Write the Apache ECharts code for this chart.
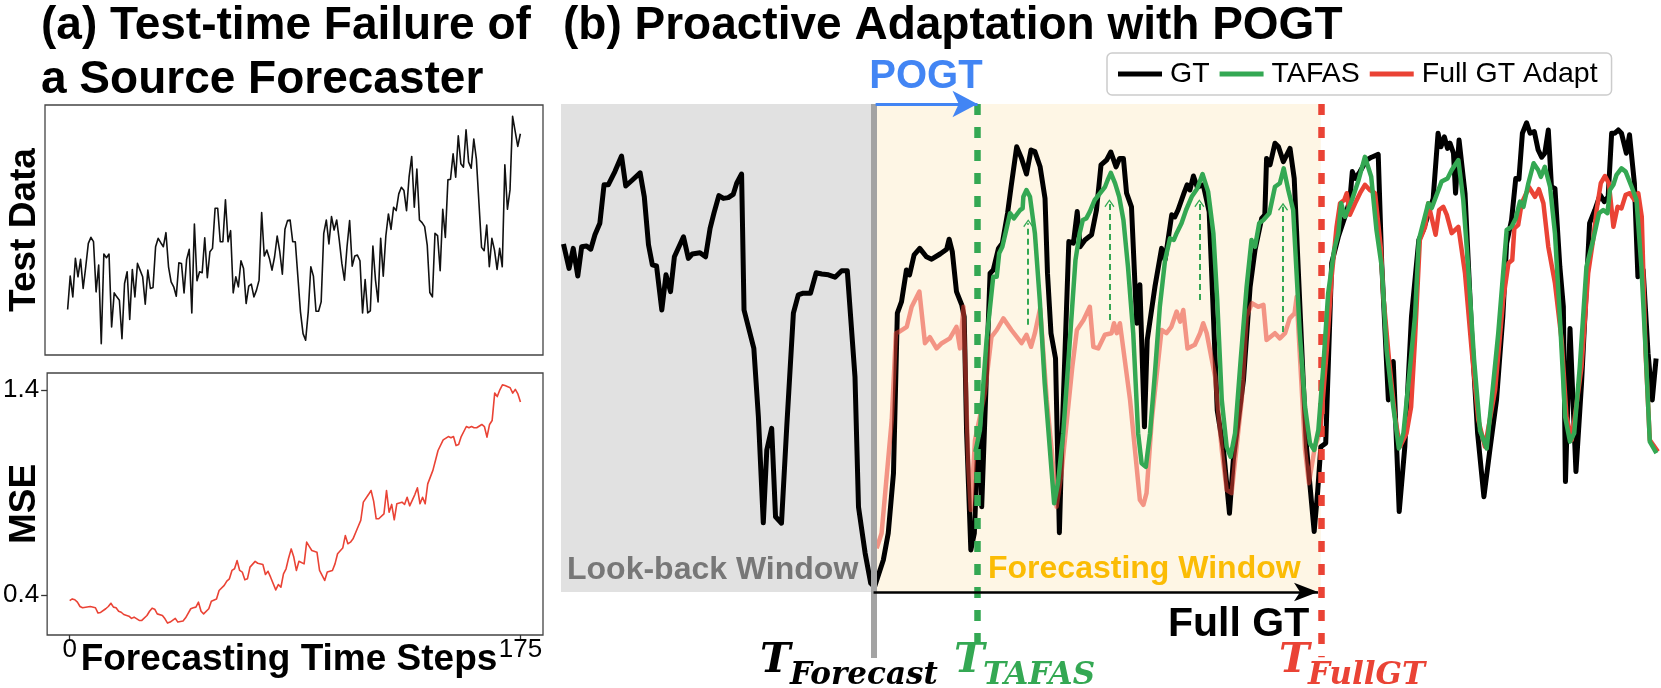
<!DOCTYPE html>
<html>
<head>
<meta charset="utf-8">
<script src="https://cdn.jsdelivr.net/npm/echarts@6.0.0/dist/echarts.min.js"></script>
<style>
  html, body { margin: 0; padding: 0; background: #fff; }
  #chart { width: 1661px; height: 688px; }
</style>
</head>
<body>
<div id="chart"></div>
<script>
// ---- panel (a): test data (one value per forecasting step 0..175)
var testData = [
  10.2,20.2,14.0,25.5,20.0,25.2,16.5,23.0,30.0,31.8,
  30.5,15.5,23.5,0.0,26.8,25.7,26.8,5.0,15.2,14.0,
  13.0,1.5,18.0,21.5,7.2,22.2,14.0,24.0,22.0,20.0,
  11.8,22.0,16.5,16.8,29.0,31.5,30.2,29.0,33.2,23.0,
  18.5,17.0,14.2,24.2,24.0,15.2,25.2,28.2,9.2,35.8,
  18.8,21.5,21.2,31.7,19.7,27.5,28.5,40.5,40.5,30.5,
  30.5,43.0,30.5,33.8,15.2,20.0,17.0,24.8,22.5,12.0,
  17.2,17.8,14.0,16.0,19.0,39.2,26.2,28.0,25.5,22.0,
  26.0,32.2,27.5,20.8,34.2,36.8,37.0,30.5,30.5,20.0,
  9.5,3.0,1.0,9.5,23.0,20.2,9.7,9.7,12.5,33.0,
  37.0,29.8,38.0,34.0,37.0,31.0,24.0,19.0,29.0,36.8,
  23.2,26.2,26.5,24.8,9.2,19.2,9.2,9.8,29.2,19.0,
  12.5,31.5,20.2,32.2,38.8,34.2,40.8,39.8,44.8,46.8,
  45.8,39.8,50.0,56.0,40.8,52.2,37.0,36.2,35.0,29.5,
  15.3,14.0,33.0,32.3,21.8,40.2,31.8,49.0,49.2,56.8,
  49.8,62.2,53.8,52.8,64.0,54.3,52.5,61.2,55.2,42.0,
  28.8,27.8,35.5,23.0,31.5,28.0,22.2,28.5,23.0,53.5,
  40.2,46.0,68.0,63.5,59.0,62.8
];

// ---- panel (a): MSE per step
var mseSteps = [0,1,2,3,4,5,8,10,11,12,14,15,16,17,18,19,20,21,23,24,25,27,28,30,31,32,33,34,36,37,38,39,41,42,44,45,47,48,49,50,51,52,54,55,57,58,60,61,62,63,64,65,66,67,68,69,70,72,73,75,76,77,78,80,81,82,83,84,85,86,87,88,89,91,92,93,94,96,97,99,100,102,103,104,106,107,108,109,110,112,113,114,116,117,118,119,120,122,123,124,125,126,127,129,130,131,132,134,135,136,137,138,139,141,142,143,145,147,148,149,150,151,152,154,155,156,157,158,160,161,162,163,164,165,166,167,168,169,171,172,173,174,175];
var mseValues = [0.372,0.380,0.376,0.364,0.343,0.337,0.343,0.337,0.311,0.314,0.332,0.343,0.359,0.340,0.337,0.320,0.315,0.304,0.296,0.285,0.291,0.275,0.275,0.299,0.320,0.335,0.330,0.307,0.299,0.283,0.262,0.267,0.285,0.267,0.272,0.288,0.332,0.337,0.340,0.364,0.320,0.307,0.332,0.369,0.380,0.421,0.446,0.467,0.478,0.519,0.527,0.567,0.519,0.511,0.473,0.478,0.535,0.563,0.554,0.548,0.499,0.515,0.486,0.424,0.450,0.437,0.502,0.527,0.580,0.624,0.584,0.519,0.564,0.551,0.657,0.636,0.616,0.608,0.519,0.470,0.511,0.519,0.551,0.600,0.628,0.689,0.649,0.657,0.673,0.733,0.763,0.852,0.889,0.909,0.857,0.771,0.771,0.795,0.909,0.803,0.841,0.766,0.844,0.852,0.841,0.876,0.834,0.889,0.922,0.844,0.876,0.844,0.941,1.007,1.055,1.104,1.156,1.172,1.166,1.172,1.128,1.133,1.172,1.221,1.215,1.221,1.215,1.215,1.231,1.221,1.169,1.231,1.250,1.384,1.367,1.400,1.424,1.421,1.410,1.384,1.402,1.380,1.340];
var mseTicks = [0.4, 1.4];
var stepTicks = [0, 175];

// ---- panel (b): [time step, value]
var gtPoints = [[0.7,87.0],[2.3,80.9],[3.5,85.9],[4.8,79.0],[5.9,86.3],[7.3,86.5],[8.5,85.7],[9.7,89.3],[11.1,92.2],[12.3,101.8],[13.5,101.8],[15.4,105.1],[17.3,109.0],[18.5,101.5],[20.4,103.0],[22.6,104.8],[23.8,98.8],[25.0,86.8],[26.1,81.8],[27.3,81.5],[28.8,70.5],[30.0,79.3],[31.3,75.1],[32.4,83.8],[35.0,88.8],[36.4,83.4],[37.5,84.5],[39.7,84.8],[41.3,83.8],[42.6,90.9],[43.7,94.7],[45.1,99.1],[46.4,98.4],[47.8,98.6],[49.2,99.4],[50.2,102.2],[51.6,104.5],[52.3,70.5],[55.1,60.9],[56.4,43.8],[57.8,17.3],[58.8,35.5],[60.2,40.9],[61.3,18.8],[63.0,17.2],[64.5,41.3],[66.4,69.7],[67.8,74.3],[69.2,74.7],[71.3,74.7],[72.9,79.8],[74.5,79.5],[76.4,79.3],[78.3,78.7],[80.2,80.3],[81.8,80.3],[84.0,53.8],[85.0,21.3],[86.9,9.7],[88.5,2.2],[89.6,1.3],[92.1,8.0],[93.5,14.7],[95.0,29.7],[96.1,69.7],[97.3,72.6],[98.7,80.5],[99.6,79.3],[100.9,84.3],[102.5,85.9],[104.4,83.8],[105.9,83.2],[108.3,84.5],[110.2,85.7],[110.9,88.2],[111.8,85.1],[113.0,75.1],[114.5,71.8],[115.2,68.8],[115.9,39.7],[117.1,10.5],[118.1,14.7],[119.0,34.7],[119.7,39.7],[120.2,21.3],[122.6,79.7],[123.5,80.5],[125.0,85.9],[126.1,87.2],[127.6,94.7],[128.6,101.3],[130.2,111.3],[131.6,108.4],[133.0,104.5],[134.3,110.5],[135.4,110.1],[136.9,106.3],[138.3,98.4],[139.0,79.7],[140.0,64.7],[141.3,58.4],[142.4,14.8],[143.2,39.7],[145.1,87.6],[146.4,87.2],[147.5,95.1],[148.3,86.3],[149.7,88.0],[151.6,89.3],[153.0,95.5],[154.3,106.8],[155.9,108.0],[157.1,110.0],[158.6,106.3],[159.6,108.4],[160.7,108.4],[161.6,99.7],[163.0,96.3],[164.5,67.2],[165.4,76.8],[166.7,41.3],[167.5,63.0],[169.7,76.3],[171.6,85.9],[172.6,83.0],[174.5,94.3],[175.4,93.8],[176.3,95.5],[178.0,99.7],[178.9,101.8],[179.7,100.5],[180.7,104.0],[181.8,101.2],[183.5,101.8],[185.2,95.1],[187.5,45.5],[189.3,35.5],[191.0,19.7],[192.1,33.0],[195.0,53.0],[196.9,76.3],[198.3,85.5],[200.2,93.4],[201.1,94.3],[201.6,108.4],[202.6,106.8],[204.0,112.2],[205.0,111.3],[206.4,107.6],[208.3,110.9],[209.5,103.4],[212.1,52.2],[213.0,36.3],[215.2,15.1],[216.2,25.1],[217.1,36.3],[218.5,37.2],[220.2,82.2],[222.1,88.8],[224.0,93.8],[225.4,98.0],[226.1,105.1],[226.9,103.4],[228.3,105.1],[230.2,108.0],[231.6,108.7],[233.5,109.4],[234.5,82.2],[236.4,48.0],[237.8,57.6],[239.5,20.1],[241.1,36.3],[243.0,68.8],[245.1,88.0],[246.4,90.5],[249.2,98.4],[250.6,114.7],[251.4,111.3],[252.4,113.8],[253.3,110.9],[254.0,112.2],[255.0,109.7],[255.6,99.7],[256.6,113.0],[258.3,99.7],[260.2,64.7],[261.9,39.7],[263.7,23.8],[265.4,35.5],[267.3,48.0],[269.1,68.8],[270.2,87.2],[271.6,93.0],[272.8,103.4],[273.7,103.2],[274.7,114.7],[275.9,117.3],[276.9,114.7],[278.1,115.1],[279.2,110.5],[280.2,108.7],[281.1,109.7],[282.1,115.5],[283.0,101.3],[284.0,100.9],[285.4,81.3],[286.4,71.3],[287.0,27.6],[288.3,65.9],[290.0,30.1],[291.6,52.2],[293.9,92.2],[295.4,95.5],[296.9,99.3],[298.1,97.6],[299.2,98.8],[300.2,114.7],[301.1,114.7],[302.1,115.5],[303.0,114.7],[304.4,109.7],[305.3,114.3],[306.7,102.2],[307.7,78.8],[309.2,80.5],[310.6,59.7],[311.8,48.0],[312.9,58.4]];

var tafasPoints = [[118.4,35.0],[119.7,40.5],[121.6,63.0],[123.5,78.8],[124.5,78.8],[125.2,84.7],[126.1,86.3],[127.0,89.7],[128.3,94.7],[129.4,93.4],[131.2,95.5],[131.9,95.9],[132.1,98.8],[133.0,100.5],[134.0,98.8],[135.4,89.7],[136.8,73.0],[138.2,52.2],[139.7,35.5],[140.9,22.2],[142.0,27.2],[143.5,39.7],[145.4,63.0],[147.0,83.0],[148.2,89.7],[149.1,93.0],[150.1,93.4],[151.1,95.1],[152.5,98.0],[155.4,101.2],[156.2,103.0],[157.1,104.8],[158.3,102.2],[159.5,98.8],[160.7,93.0],[162.0,81.3],[163.5,64.7],[164.9,39.7],[165.9,32.2],[167.1,31.3],[168.3,39.7],[169.7,54.7],[171.1,71.3],[172.6,83.0],[174.0,88.4],[175.1,88.0],[175.9,89.7],[177.3,92.2],[178.6,95.5],[180.2,98.8],[181.8,100.9],[183.3,104.5],[184.9,100.1],[186.4,89.7],[187.5,73.0],[188.8,48.0],[190.2,36.3],[191.3,33.8],[192.6,39.7],[194.2,58.0],[195.9,76.3],[197.3,88.0],[198.3,86.3],[199.5,92.2],[200.7,93.0],[202.4,94.7],[204.0,101.3],[205.4,102.2],[206.5,105.9],[207.8,100.5],[209.2,95.5],[211.1,64.7],[212.6,46.3],[214.0,37.2],[215.2,35.5],[216.4,40.5],[217.8,56.3],[219.2,74.7],[220.9,85.5],[222.1,89.7],[222.9,97.2],[224.0,93.8],[226.0,98.0],[227.9,103.0],[229.7,108.8],[231.5,103.8],[233.0,90.5],[234.5,81.3],[235.9,60.5],[237.8,46.3],[239.4,35.9],[240.7,39.7],[242.6,56.3],[244.0,68.8],[245.1,88.0],[247.8,97.2],[248.8,96.0],[251.6,102.6],[253.3,103.4],[254.5,105.5],[256.4,108.0],[257.8,98.0],[259.2,81.3],[260.9,58.0],[262.6,40.3],[264.5,35.9],[265.9,48.0],[267.8,64.7],[270.2,90.5],[271.6,91.3],[272.8,93.4],[274.0,97.6],[275.0,96.3],[276.4,102.2],[277.9,107.2],[279.2,105.5],[280.0,103.8],[281.1,106.3],[282.6,101.3],[284.0,89.7],[285.4,68.8],[286.9,43.8],[288.3,37.6],[289.5,39.7],[291.1,56.3],[293.0,81.3],[294.9,88.0],[296.6,94.7],[297.8,95.5],[299.0,94.7],[299.7,100.5],[300.7,101.8],[301.6,104.3],[303.0,105.9],[304.2,105.1],[305.9,101.3],[307.3,98.0],[308.7,81.3],[309.9,60.5],[311.1,37.6],[313.0,34.7]];

// Full-GT adaptation inside the forecasting window (drawn faded)
var fullGtWindowPoints = [[90.2,10.9],[91.6,14.7],[94.5,43.0],[95.7,64.7],[96.7,65.1],[98.8,66.3],[100.2,71.3],[102.4,75.1],[104.0,62.2],[105.4,63.7],[107.3,60.9],[108.8,62.2],[111.1,63.4],[113.0,66.3],[114.0,60.9],[115.0,71.3],[116.4,31.3],[117.1,20.5],[118.3,38.0],[121.1,49.7],[123.0,63.8],[124.5,65.5],[126.4,68.4],[128.7,65.5],[131.6,62.2],[133.0,64.3],[134.3,61.3],[135.4,64.7],[136.9,70.9],[138.8,48.0],[140.2,35.5],[141.6,21.3],[143.0,29.7],[146.1,56.3],[147.4,65.5],[149.3,68.0],[151.1,71.3],[152.1,61.3],[153.5,60.9],[155.4,64.3],[157.3,64.7],[158.0,67.2],[158.8,64.7],[159.7,67.2],[162.6,48.0],[164.0,35.5],[165.4,23.0],[166.4,21.8],[167.3,24.7],[168.8,43.0],[171.6,65.5],[173.0,64.7],[174.4,66.3],[175.9,70.1],[176.9,67.6],[177.8,70.5],[179.0,60.9],[181.1,61.8],[182.6,64.7],[183.5,67.2],[184.5,64.7],[186.9,53.8],[188.8,35.5],[190.2,25.5],[191.6,24.7],[194.5,48.0],[195.9,68.8],[197.4,72.2],[199.2,71.3],[200.7,71.8],[201.6,63.0],[204.0,64.7],[205.4,63.4],[206.9,64.7],[208.2,68.4],[209.6,69.7],[210.2,73.8],[212.6,35.5],[213.7,27.2],[215.4,36.3],[216.9,40.0]];

// Full-GT adaptation after the full ground truth arrives
var fullGtPoints = [[216.9,40.0],[217.3,43.8],[218.8,60.5],[220.2,78.8],[221.6,91.3],[222.6,97.2],[223.8,98.0],[224.5,99.7],[225.4,94.3],[226.9,97.2],[228.3,99.7],[229.7,101.8],[231.1,100.5],[232.6,99.7],[234.3,85.5],[234.9,74.7],[236.6,58.0],[238.3,43.8],[239.7,36.3],[241.6,39.7],[242.9,46.3],[244.0,63.0],[245.4,88.0],[246.9,91.3],[247.8,97.2],[249.9,89.3],[250.9,95.5],[252.1,96.3],[253.1,94.3],[254.5,89.7],[256.4,91.3],[258.3,79.7],[260.2,60.5],[262.1,43.0],[264.0,36.3],[266.9,50.5],[269.2,73.0],[270.7,82.2],[271.8,83.0],[272.4,90.9],[273.5,91.8],[274.5,97.2],[276.6,101.2],[278.3,98.8],[279.4,100.7],[280.7,97.2],[282.1,86.3],[284.0,77.2],[285.9,63.0],[287.3,43.8],[288.8,38.0],[291.6,56.3],[293.5,79.7],[294.9,88.0],[295.9,95.5],[297.1,102.2],[298.3,104.0],[299.4,102.2],[300.7,91.3],[301.9,96.3],[303.0,95.9],[304.2,99.3],[305.4,99.7],[306.7,98.0],[307.8,99.7],[308.8,93.8],[309.9,59.7],[311.1,38.0],[313.4,35.1]];

// key time points and TAFAS correction arrows [step, from, to]
var tForecast = 89.3, tTafas = 118.8, tFullGT = 217.1;
var tafasArrows = [[133.5,66.8,92.2],[156.7,68.0,97.2],[182.4,73.0,97.2],[206.3,65.0,96.3]];

var C = { black:'#000000', green:'#34a853', red:'#ea4335', blue:'#4285f4', yellow:'#fbbc05', grayText:'#777777' };
var SANS = '"Liberation Sans", Arial, sans-serif';
var SERIF = '"DejaVu Serif", serif';

var myChart = echarts.init(document.getElementById('chart'));

function txt(x, y, s, size, color, opts) {
    opts = opts || {};
    return {
        type: 'text', x: x, y: y, rotation: opts.rotation || 0, z: 100,
        style: {
            text: s, fontSize: size, fontWeight: opts.weight || 'bold',
            fontStyle: opts.italic ? 'italic' : 'normal',
            fontFamily: opts.family || SANS, fill: color,
            align: opts.align || 'left', verticalAlign: 'middle'
        }
    };
}

var hiddenAxis = { axisLine:{show:false}, axisTick:{show:false}, axisLabel:{show:false}, splitLine:{show:false} };
var chevron = 'path://M0,0 L10,10 L8,11.5 L0,3 L-8,11.5 L-10,10 Z';

var option = {
    animation: false,
    textStyle: { fontFamily: SANS },
    grid: [
        { left: 45, top: 105, width: 498, height: 250, show: true, borderColor: '#444', borderWidth: 1.3 },
        { left: 45, top: 373, width: 498, height: 262, show: true, borderColor: '#444', borderWidth: 1.3 },
        { left: 561, top: 104, width: 1100, height: 556 }
    ],
    xAxis: [
        Object.assign({ type:'value', gridIndex:0, min:-8.75, max:183.75 }, hiddenAxis),
        { type:'value', gridIndex:1, min:-8.75, max:183.75,
          axisLine:{show:false, onZero:false}, splitLine:{show:false},
          axisTick:{show:true, length:6, customValues: stepTicks, lineStyle:{color:'#333', width:1.3}},
          axisLabel:{show:true, customValues: stepTicks, fontSize:26, color:'#000', margin:2} },
        Object.assign({ type:'value', gridIndex:2, min:0, max:314.3 }, hiddenAxis)
    ],
    yAxis: [
        Object.assign({ type:'value', gridIndex:0, min:-3.4, max:71.4 }, hiddenAxis),
        { type:'value', gridIndex:1, min:0.204, max:1.482,
          axisLine:{show:false, onZero:false}, splitLine:{show:false},
          axisTick:{show:true, length:6, customValues: mseTicks, lineStyle:{color:'#333', width:1.3}},
          axisLabel:{show:true, customValues: mseTicks, fontSize:26, color:'#000', margin:8,
                     formatter: function (v) { return v.toFixed(1); }} },
        Object.assign({ type:'value', gridIndex:2, min:-17, max:122 }, hiddenAxis)
    ],
    legend: {
        data: ['GT', 'TAFAS', 'Full GT Adapt'],
        left: 1107, top: 53, icon: 'rect', itemWidth: 44, itemHeight: 5, itemGap: 10,
        padding: [5, 14, 5, 11], borderColor: '#cccccc', borderWidth: 1.5, borderRadius: 5,
        backgroundColor: '#ffffff', selectedMode: false,
        textStyle: { fontSize: 28.5, color: '#000', padding: [0, 0, 0, 3], lineHeight: 32 }
    },
    series: [
        {
            name: 'Test Data', type: 'line', xAxisIndex: 0, yAxisIndex: 0, symbol: 'none',
            data: testData.map(function (v, i) { return [i, v]; }),
            lineStyle: { color: '#111', width: 1.6, join: 'round' }, silent: true
        },
        {
            name: 'MSE', type: 'line', xAxisIndex: 1, yAxisIndex: 1, symbol: 'none',
            data: mseSteps.map(function (s, i) { return [s, mseValues[i]]; }),
            lineStyle: { color: C.red, width: 1.6, join: 'round' }, silent: true
        },
        {
            name: 'windows', type: 'line', xAxisIndex: 2, yAxisIndex: 2, data: [], z: 1, silent: true,
            markArea: {
                silent: true, label: { show: false },
                data: [
                    [{ coord: [0, 0], itemStyle: { color: '#e1e1e1' } }, { coord: [tForecast, 122] }],
                    [{ coord: [tForecast, 0], itemStyle: { color: '#fef6e5' } }, { coord: [tFullGT, 122] }]
                ]
            },
            markLine: {
                silent: true, symbol: ['none', 'none'], label: { show: false },
                data: [
                    [{ coord: [tForecast, 122], lineStyle: { color: '#a3a3a3', width: 6, type: 'solid' } },
                     { coord: [tForecast, -16.5] }]
                ]
            }
        },
        {
            name: 'GT', type: 'line', xAxisIndex: 2, yAxisIndex: 2, symbol: 'none', z: 3,
            data: gtPoints, itemStyle: { color: C.black },
            lineStyle: { color: C.black, width: 5, join: 'round' }, silent: true
        },
        {
            name: 'Full GT Adapt', type: 'line', xAxisIndex: 2, yAxisIndex: 2, symbol: 'none', z: 5,
            data: fullGtPoints, itemStyle: { color: C.red },
            lineStyle: { color: C.red, width: 4.5, join: 'round' }, silent: true
        },
        {
            name: 'Full GT Adapt (window)', type: 'line', xAxisIndex: 2, yAxisIndex: 2, symbol: 'none', z: 4,
            data: fullGtWindowPoints, itemStyle: { color: C.red },
            lineStyle: { color: C.red, width: 4.5, opacity: 0.55, join: 'round' }, silent: true
        },
        {
            name: 'TAFAS', type: 'line', xAxisIndex: 2, yAxisIndex: 2, symbol: 'none', z: 6,
            data: tafasPoints, itemStyle: { color: C.green },
            lineStyle: { color: C.green, width: 4.5, join: 'round' }, silent: true,
            markLine: {
                silent: true, label: { show: false }, symbol: ['none', chevron], symbolSize: [10, 8],
                lineStyle: { color: C.green, width: 2, type: [6, 4] },
                data: tafasArrows.map(function (a) { return [{ coord: [a[0], a[1]] }, { coord: [a[0], a[2]] }]; })
            }
        },
        {
            name: 'marks', type: 'line', xAxisIndex: 2, yAxisIndex: 2, data: [], z: 7, silent: true,
            markLine: {
                silent: true, label: { show: false }, symbol: ['none', 'none'],
                data: [
                    [{ coord: [tTafas, 122], lineStyle: { color: C.green, width: 6.5, type: [11, 12] } },
                     { coord: [tTafas, -12.5] }],
                    [{ coord: [tFullGT, 122], lineStyle: { color: C.red, width: 6.5, type: [11, 12] } },
                     { coord: [tFullGT, -16.3] }],
                    [{ coord: [tForecast, 0], symbol: 'none', lineStyle: { color: C.black, width: 2.5, type: 'solid' } },
                     { coord: [216.3, 0], symbol: 'arrow', symbolSize: [14, 24] }],
                    [{ coord: [89.9, 122], symbol: 'none', lineStyle: { color: C.blue, width: 3, type: 'solid' } },
                     { coord: [119.0, 122], symbol: 'arrow', symbolSize: [20, 25] }]
                ]
            }
        }
    ],
    graphic: [
        txt(41, 26, '(a) Test-time Failure of', 46, '#000'),
        txt(41, 80, 'a Source Forecaster', 46, '#000'),
        txt(563, 26, '(b) Proactive Adaptation with POGT', 46, '#000'),
        txt(25, 230, 'Test Data', 37, '#000', { rotation: Math.PI / 2, align: 'center' }),
        txt(25, 504, 'MSE', 37, '#000', { rotation: Math.PI / 2, align: 'center' }),
        txt(289, 660, 'Forecasting Time Steps', 37, '#000', { align: 'center' }),
        txt(926, 77, 'POGT', 40, C.blue, { align: 'center' }),
        txt(567, 570, 'Look-back Window', 32, C.grayText),
        txt(988, 569, 'Forecasting Window', 32, C.yellow),
        txt(1168, 625, 'Full GT', 41, '#000'),
        txt(760, 661, 'T', 41, '#000', { family: SERIF, italic: true }),
        txt(790, 676, 'Forecast', 31, '#000', { family: SERIF, italic: true }),
        txt(954, 661, 'T', 41, C.green, { family: SERIF, italic: true }),
        txt(983, 676, 'TAFAS', 31, C.green, { family: SERIF, italic: true }),
        txt(1279, 661, 'T', 41, C.red, { family: SERIF, italic: true }),
        txt(1308, 676, 'FullGT', 31, C.red, { family: SERIF, italic: true })
    ]
};

myChart.setOption(option);
window.addEventListener('resize', function () { myChart.resize(); });
</script>
</body>
</html>
